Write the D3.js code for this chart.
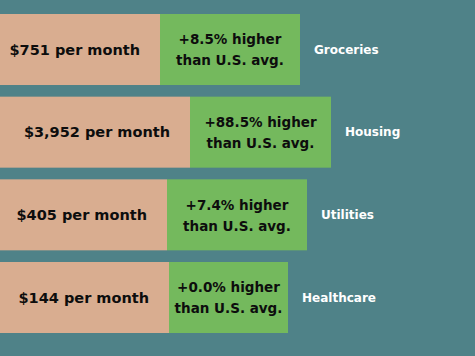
<!DOCTYPE html>
<html><head><meta charset="utf-8">
<script src="https://cdn.jsdelivr.net/npm/d3@7"></script>
<style>html,body{margin:0;padding:0;background:#4f8288;}svg{display:block;}</style>
</head><body>
<script>
const categories = ["Groceries", "Housing", "Utilities", "Healthcare"];
const monthlyCost = ["$751 per month", "$3,952 per month", "$405 per month", "$144 per month"];
const pctHigher = ["+8.5%", "+88.5%", "+7.4%", "+0.0%"];
// bar segment extents (arbitrary layout units)
const costSegment = [160, 190, 167, 169];
const pctSegment = [140, 141, 140, 119];

const W = 475, H = 356;
const data = categories.map((c, i) => ({c, cost: monthlyCost[i], pct: pctHigher[i], a: costSegment[i], b: pctSegment[i]}));

const svg = d3.select("body").append("svg").attr("width", W).attr("height", H);
svg.append("rect").attr("width", W).attr("height", H).attr("fill", "#4f8288");

const x = d3.scaleLinear().domain([0, 475]).range([0, W]);
const y = d3.scaleBand().domain(categories).range([14, 333]).paddingInner(0.141).paddingOuter(0);

const g = svg.selectAll("g.row").data(data).join("g").attr("class", "row")
  .attr("transform", d => `translate(0,${y(d.c)})`);
const bh = y.bandwidth();

g.append("rect").attr("x", x(0)).attr("width", d => x(d.a) - x(0)).attr("height", bh).attr("fill", "#d9ad90");
g.append("rect").attr("x", d => x(d.a)).attr("width", d => x(d.a + d.b) - x(d.a)).attr("height", bh).attr("fill", "#74b95d");

const black = "#0d0d0d";
g.append("text").attr("x", d => x(d.a) - 20).attr("y", bh / 2).attr("dy", "0.35em")
  .attr("text-anchor", "end").attr("font-family", "'DejaVu Sans', sans-serif").attr("font-weight", "bold")
  .attr("font-size", 14.5).attr("fill", black).text(d => d.cost);

const t = g.append("text").attr("text-anchor", "middle").attr("font-family", "'DejaVu Sans', sans-serif")
  .attr("font-weight", "bold").attr("font-size", 13.5).attr("fill", black);
t.append("tspan").attr("x", d => x(d.a + d.b / 2)).attr("y", bh / 2 - 10).attr("dy", "0.35em").text(d => d.pct + " higher");
t.append("tspan").attr("x", d => x(d.a + d.b / 2)).attr("y", bh / 2 + 11).attr("dy", "0.35em").text("than U.S. avg.");

g.append("text").attr("x", d => x(d.a + d.b) + 14).attr("y", bh / 2).attr("dy", "0.35em")
  .attr("font-family", "'DejaVu Sans', sans-serif").attr("font-weight", "bold")
  .attr("font-size", 12).attr("fill", "#fff").text(d => d.c);
</script>
</body></html>
